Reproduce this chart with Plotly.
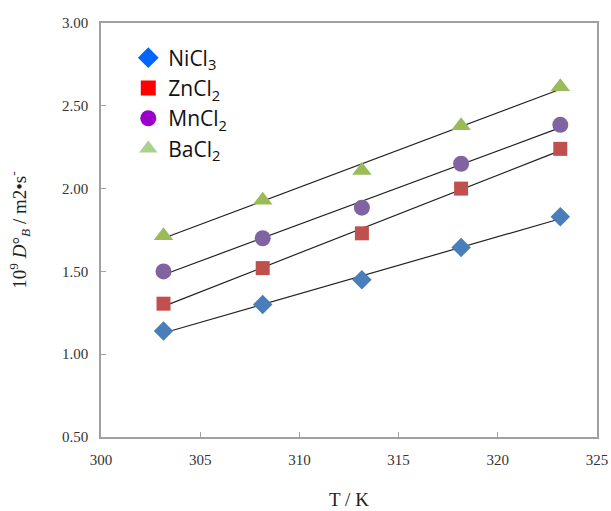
import numpy as np
import plotly.graph_objects as go

# Data
temps = [303.15, 308.15, 313.15, 318.15, 323.15]
nicl3 = [1.14, 1.30, 1.45, 1.645, 1.83]
zncl2 = [1.305, 1.52, 1.73, 2.00, 2.24]
mncl2 = [1.50, 1.70, 1.885, 2.15, 2.385]
bacl2 = [1.715, 1.93, 2.11, 2.38, 2.615]

series_names = ["NiCl<sub>3</sub>", "ZnCl<sub>2</sub>", "MnCl<sub>2</sub>", "BaCl<sub>2</sub>"]
series_vals = [nicl3, zncl2, mncl2, bacl2]
symbols = ["diamond", "square", "circle", "triangle-up"]
sizes = [15, 14, 16, 17]
legend_sizes = [18, 15, 17, 18]
data_colors = ["#4a7ebb", "#c0504d", "#8064a2", "#9bbb59"]
legend_colors = ["#0066ff", "#ff0000", "#9900cc", "#a9d18e"]

x_ticks = [300, 305, 310, 315, 320, 325]
y_ticks = [0.5, 1.0, 1.5, 2.0, 2.5, 3.0]

fig = go.Figure()

# Trend lines (least squares fits)
xs = np.array(temps)
for vals in series_vals:
    m, b = np.polyfit(xs, np.array(vals), 1)
    xl = [xs[0], xs[-1]]
    fig.add_trace(go.Scatter(x=xl, y=[m * v + b for v in xl], mode="lines",
                             line=dict(color="#222222", width=1.2),
                             showlegend=False, hoverinfo="skip"))

# Data markers
for name, vals, sym, sz, col in zip(series_names, series_vals, symbols, sizes, data_colors):
    fig.add_trace(go.Scatter(x=temps, y=vals, mode="markers", name=name,
                             marker=dict(symbol=sym, size=sz, color=col,
                                         line=dict(width=0)),
                             showlegend=False))

# Legend entries (brighter colours as in the reference)
for name, sym, sz, col in zip(series_names, symbols, legend_sizes, legend_colors):
    fig.add_trace(go.Scatter(x=[None], y=[None], mode="markers", name=name,
                             marker=dict(symbol=sym, size=sz, color=col,
                                         line=dict(width=0))))

axis_common = dict(showline=True, linecolor="#a0a0a0", linewidth=1.5, mirror=True,
                   ticks="inside", ticklen=5, tickcolor="#a0a0a0", tickwidth=1,
                   showgrid=False, zeroline=False, ticklabelstandoff=8,
                   automargin=False,
                   tickfont=dict(family="Liberation Serif", size=15, color="#333333"))

fig.update_layout(
    width=611, height=511,
    margin=dict(l=101, r=14, t=23, b=74),
    paper_bgcolor="white", plot_bgcolor="white",
    xaxis=dict(range=[300, 325], tickvals=x_ticks,
               ticktext=[str(t) for t in x_ticks],
               title=dict(text="T / K", font=dict(family="Liberation Serif", size=19, color="#222222"),
                          standoff=26),
               **axis_common),
    yaxis=dict(range=[0.5, 3.0], tickvals=y_ticks,
               ticktext=[f"{t:.2f}" for t in y_ticks],
               title=dict(text="10<sup>9</sup> <i>D</i>°<sub><i>B</i></sub> / m2•s<sup>-</sup>",
                          font=dict(family="Liberation Serif", size=19, color="#222222"),
                          standoff=30),
               **axis_common),
    legend=dict(x=0.055, y=0.965, xanchor="left", yanchor="top",
                bgcolor="rgba(0,0,0,0)",
                font=dict(family="Open Sans", size=21, color="#111111"),
                tracegroupgap=0, itemsizing="trace"),
    showlegend=True,
)

fig.write_html("out.html")
